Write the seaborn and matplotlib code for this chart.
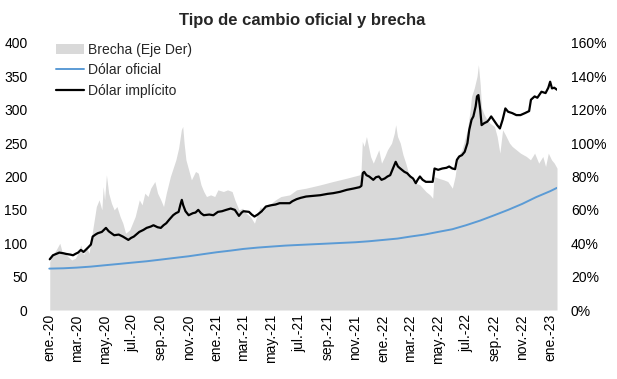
import pandas as pd
import numpy as np
import matplotlib
matplotlib.use("Agg")
import matplotlib.pyplot as plt
import matplotlib.dates as mdates
from matplotlib.patches import Patch
from matplotlib.lines import Line2D
from matplotlib.ticker import FuncFormatter, MultipleLocator
import seaborn as sns

# ---------------- data ----------------
oficial_dates = [
    "2020-01-01", "2020-02-01", "2020-03-01", "2020-04-01", "2020-05-01", "2020-06-01",
    "2020-07-01", "2020-08-01", "2020-09-01", "2020-10-01", "2020-11-01", "2020-12-01",
    "2021-01-01", "2021-02-01", "2021-03-01", "2021-04-01", "2021-05-01", "2021-06-01",
    "2021-07-01", "2021-08-01", "2021-09-01", "2021-10-01", "2021-11-01", "2021-12-01",
    "2022-01-01", "2022-02-01", "2022-03-01", "2022-04-01", "2022-05-01", "2022-06-01",
    "2022-07-01", "2022-08-01", "2022-09-01", "2022-10-01", "2022-11-01", "2022-12-01",
    "2023-01-01", "2023-01-16",
]
oficial_values = [
    62, 62.5, 63.5, 65, 67, 69, 71, 73, 75.5, 78, 80.5, 83.5,
    86.5, 89, 91.5, 93.5, 95, 96.5, 97.5, 98.5, 99.5, 100.5, 101.5, 103,
    105, 107, 110, 113, 117, 121, 127, 134, 142, 150, 159, 169,
    178, 183,
]

implicito_dates = [
    "2020-01-02", "2020-01-09", "2020-01-16", "2020-01-23", "2020-02-01", "2020-02-07",
    "2020-02-16", "2020-02-22", "2020-02-27", "2020-03-04", "2020-03-10", "2020-03-16",
    "2020-03-25", "2020-04-01", "2020-04-05", "2020-04-11", "2020-04-16", "2020-04-25",
    "2020-05-04", "2020-05-10", "2020-05-16", "2020-05-22", "2020-06-01", "2020-06-10",
    "2020-06-22", "2020-06-28", "2020-07-04", "2020-07-16", "2020-07-25", "2020-08-01",
    "2020-08-10", "2020-08-16", "2020-08-25", "2020-09-01", "2020-09-07", "2020-09-13",
    "2020-09-19", "2020-09-28", "2020-10-04", "2020-10-10", "2020-10-14", "2020-10-17",
    "2020-10-20", "2020-10-25", "2020-11-01", "2020-11-10", "2020-11-16", "2020-11-22",
    "2020-11-28", "2020-12-04", "2020-12-16", "2020-12-25", "2021-01-04", "2021-01-13",
    "2021-01-22", "2021-02-01", "2021-02-10", "2021-02-19", "2021-02-25", "2021-03-01",
    "2021-03-13", "2021-03-19", "2021-03-25", "2021-04-01", "2021-04-10", "2021-04-19",
    "2021-05-01", "2021-05-10", "2021-05-19", "2021-06-01", "2021-06-10", "2021-06-16",
    "2021-06-25", "2021-07-04", "2021-07-16", "2021-08-01", "2021-08-16", "2021-09-01",
    "2021-09-13", "2021-09-28", "2021-10-13", "2021-10-28", "2021-11-10", "2021-11-14",
    "2021-11-17", "2021-11-20", "2021-11-25", "2021-12-01", "2021-12-10", "2021-12-16",
    "2021-12-22", "2021-12-28", "2022-01-04", "2022-01-10", "2022-01-16", "2022-01-22",
    "2022-01-28", "2022-02-02", "2022-02-07", "2022-02-16", "2022-02-22", "2022-03-01",
    "2022-03-07", "2022-03-13", "2022-03-17", "2022-03-22", "2022-03-28", "2022-04-04",
    "2022-04-13", "2022-04-19", "2022-04-23", "2022-05-01", "2022-05-10", "2022-05-19",
    "2022-05-25", "2022-06-01", "2022-06-07", "2022-06-11", "2022-06-16", "2022-06-22",
    "2022-06-28", "2022-07-04", "2022-07-08", "2022-07-13", "2022-07-17", "2022-07-22",
    "2022-07-25", "2022-07-28", "2022-08-01", "2022-08-04", "2022-08-10", "2022-08-16",
    "2022-08-20", "2022-08-25", "2022-09-01", "2022-09-07", "2022-09-13", "2022-09-19",
    "2022-09-25", "2022-10-01", "2022-10-10", "2022-10-19", "2022-10-28", "2022-11-07",
    "2022-11-16", "2022-11-20", "2022-11-28", "2022-12-04", "2022-12-13", "2022-12-22",
    "2022-12-28", "2023-01-01", "2023-01-05", "2023-01-10", "2023-01-16",
]
implicito_values = [
    76, 82, 84, 86, 85, 84,
    83, 82, 84, 86, 90, 87,
    93, 98, 110, 113, 115, 117,
    123, 118, 115, 112, 113, 110,
    105, 108, 110, 117, 120, 123,
    125, 127, 124, 123, 127, 130,
    135, 142, 145, 147, 158, 165,
    157, 148, 142, 145, 146, 150,
    145, 142, 143, 142, 147, 148,
    150, 152, 150, 141, 146, 148,
    147, 143, 140, 143, 148, 155,
    157, 158, 160, 160, 160, 163,
    166, 168, 170, 171, 172, 174,
    175, 177, 180, 182, 184, 186,
    205, 207, 202, 200, 195, 199,
    200, 195, 197, 200, 202, 212,
    222, 215, 212, 207, 205, 200,
    197, 190, 195, 200, 195, 192,
    192, 192, 212, 210, 212, 213,
    215, 212, 211, 225, 230, 232,
    237, 250, 270, 285, 290, 305,
    320, 322, 300, 277, 280, 282,
    285, 290, 283, 277, 272, 285,
    302, 297, 295, 292, 292, 295,
    298, 315, 320, 318, 327, 325,
    333, 342, 332, 333, 330,
]

brecha_dates = [
    "2020-01-02", "2020-01-08", "2020-01-16", "2020-01-24", "2020-01-29", "2020-02-07",
    "2020-02-19", "2020-02-27", "2020-03-04", "2020-03-10", "2020-03-16", "2020-03-22",
    "2020-03-28", "2020-04-05", "2020-04-13", "2020-04-19", "2020-04-25", "2020-04-28",
    "2020-05-01", "2020-05-05", "2020-05-10", "2020-05-16", "2020-05-22", "2020-05-28",
    "2020-06-04", "2020-06-10", "2020-06-16", "2020-06-25", "2020-07-01", "2020-07-07",
    "2020-07-16", "2020-07-22", "2020-07-28", "2020-08-04", "2020-08-10", "2020-08-19",
    "2020-08-25", "2020-09-01", "2020-09-07", "2020-09-13", "2020-09-22", "2020-09-28",
    "2020-10-04", "2020-10-10", "2020-10-16", "2020-10-19", "2020-10-22", "2020-10-26",
    "2020-11-01", "2020-11-07", "2020-11-16", "2020-11-22", "2020-11-28", "2020-12-04",
    "2020-12-10", "2020-12-19", "2020-12-28", "2021-01-04", "2021-01-16", "2021-01-25",
    "2021-02-04", "2021-02-10", "2021-02-19", "2021-02-27", "2021-03-07", "2021-03-16",
    "2021-03-25", "2021-04-01", "2021-04-07", "2021-04-13", "2021-04-19", "2021-05-01",
    "2021-05-10", "2021-05-22", "2021-06-10", "2021-06-25", "2021-07-16", "2021-08-16",
    "2021-09-13", "2021-10-13", "2021-11-10", "2021-11-13", "2021-11-16", "2021-11-20",
    "2021-11-25", "2021-12-01", "2021-12-04", "2021-12-10", "2021-12-16", "2021-12-22",
    "2021-12-28", "2022-01-04", "2022-01-10", "2022-01-19", "2022-01-25", "2022-01-28",
    "2022-02-01", "2022-02-07", "2022-02-13", "2022-02-19", "2022-02-27", "2022-03-07",
    "2022-03-13", "2022-03-22", "2022-04-04", "2022-04-13", "2022-04-19", "2022-04-22",
    "2022-05-01", "2022-05-13", "2022-05-22", "2022-06-01", "2022-06-07", "2022-06-13",
    "2022-06-22", "2022-07-04", "2022-07-10", "2022-07-13", "2022-07-19", "2022-07-25",
    "2022-07-28", "2022-08-01", "2022-08-04", "2022-08-10", "2022-08-16", "2022-08-22",
    "2022-09-01", "2022-09-07", "2022-09-13", "2022-09-19", "2022-09-25", "2022-10-04",
    "2022-10-10", "2022-10-19", "2022-10-28", "2022-11-10", "2022-11-19", "2022-11-28",
    "2022-12-07", "2022-12-16", "2022-12-22", "2022-12-28", "2023-01-04", "2023-01-10",
    "2023-01-16",
]
brecha_pct = [
    29, 33, 36, 40, 35, 33,
    30, 31, 34, 39, 33, 38,
    34, 48, 62, 66, 60, 74,
    66, 81, 70, 64, 60, 62,
    56, 52, 46, 48, 52, 56,
    66, 63, 70, 68, 73, 77,
    70, 66, 62, 70, 80, 85,
    90, 97, 108, 110, 100, 90,
    84, 78, 83, 82, 75, 71,
    68, 69, 68, 72, 71, 72,
    71, 66, 60, 61, 58, 56,
    52, 58, 62, 59, 63, 64,
    66, 68, 69, 72, 73, 75,
    77, 79, 81, 82, 101, 98,
    104, 96, 92, 88, 92, 96,
    88, 92, 96, 100, 106, 111,
    104, 100, 93, 88, 80, 77,
    76, 75, 71, 69, 67, 80,
    79, 78, 77, 73, 80, 92,
    96, 108, 120, 128, 133, 140,
    147, 135, 121, 117, 114, 112,
    110, 104, 94, 108, 105, 100,
    98, 96, 94, 92, 90, 94,
    88, 92, 86, 94, 90, 88,
    85,
]

mes_abr = ["ene.", "feb.", "mar.", "abr.", "may.", "jun.",
           "jul.", "ago.", "sep.", "oct.", "nov.", "dic."]

labels = ["Brecha (Eje Der)", "Dólar oficial", "Dólar implícito"]
title = "Tipo de cambio oficial y brecha"

# ---------------- style ----------------
sns.set_theme(style="white")
plt.rcParams["font.family"] = ["Liberation Sans", "DejaVu Sans"]
plt.rcParams["font.size"] = 10

GRAY = "#D9D9D9"
BLUE = "#5B9BD5"
BLACK = "#000000"

df_of = pd.DataFrame({"fecha": pd.to_datetime(oficial_dates), "valor": oficial_values})
df_im = pd.DataFrame({"fecha": pd.to_datetime(implicito_dates), "valor": implicito_values})
df_br = pd.DataFrame({"fecha": pd.to_datetime(brecha_dates), "valor": np.array(brecha_pct) / 100.0})

fig = plt.figure(figsize=(6.17, 3.79), dpi=100)
ax = fig.add_axes([47 / 617, 1 - 310 / 379, 510 / 617, 267 / 379])
ax2 = ax.twinx()

# gray area on right axis
ax2.fill_between(df_br["fecha"], 0, df_br["valor"], color=GRAY, lw=0, step=None)
ax2.set_ylim(0, 1.6)

# lines on left axis
sns.lineplot(data=df_of, x="fecha", y="valor", ax=ax, color=BLUE, lw=1.4, legend=False)
sns.lineplot(data=df_im, x="fecha", y="valor", ax=ax, color=BLACK, lw=1.6, legend=False)

ax.set_zorder(ax2.get_zorder() + 1)
ax.patch.set_visible(False)

ax.set_ylim(0, 400)
ax.yaxis.set_major_locator(MultipleLocator(50))
ax2.yaxis.set_major_locator(MultipleLocator(0.2))
ax2.yaxis.set_major_formatter(FuncFormatter(lambda v, p: f"{v*100:.0f}%"))

ax.set_xlim(pd.Timestamp("2019-12-27"), pd.Timestamp("2023-01-16"))
ticks = pd.date_range("2020-01-01", "2023-01-01", freq="2MS")
ax.set_xticks(ticks)
ax.set_xticklabels([f"{mes_abr[t.month-1]}-{t.year % 100:02d}" for t in ticks], rotation=90)

for a in (ax, ax2):
    for s in a.spines.values():
        s.set_visible(False)
    a.tick_params(axis="both", length=0, labelsize=10, colors="black")
    a.set_xlabel("")
    a.set_ylabel("")
ax.tick_params(axis="y", pad=14)
ax2.tick_params(axis="y", pad=10)
ax.tick_params(axis="x", pad=3)

handles = [
    Patch(facecolor=GRAY, edgecolor="none"),
    Line2D([], [], color=BLUE, lw=1.4),
    Line2D([], [], color=BLACK, lw=1.6),
]
ax.legend(handles, labels, loc="upper left", bbox_to_anchor=(0.012, 1.01),
          frameon=False, fontsize=10, handlelength=2.0, handletextpad=0.3,
          labelspacing=0.45, borderaxespad=0, borderpad=0.2)

fig.text(0.49, 1 - 20 / 379, title, ha="center", va="center",
         fontsize=12, fontweight="bold")

fig.savefig("out.png", dpi=100)
